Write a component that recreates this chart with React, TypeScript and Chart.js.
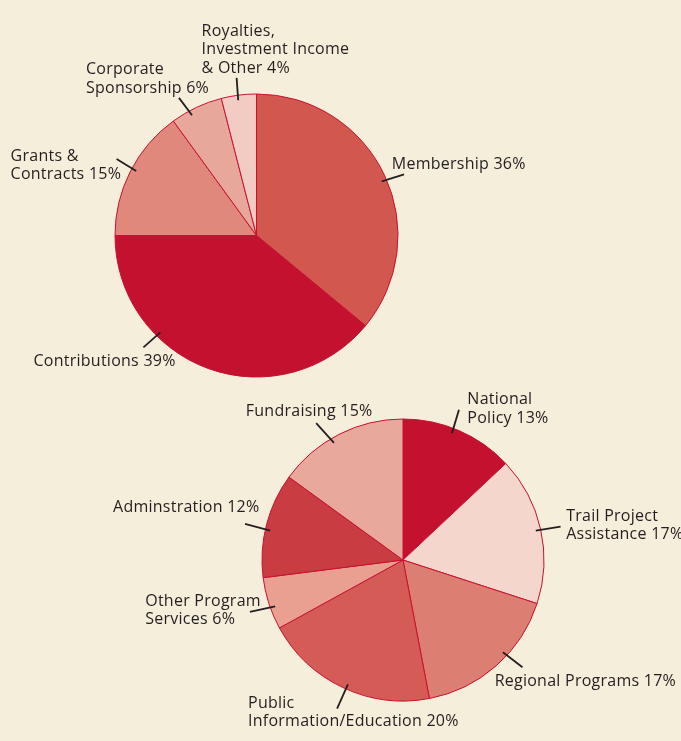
import React, { useEffect, useRef } from "react";
import { Chart, registerables } from "chart.js";

Chart.register(...registerables);

// ---- Data ----
const incomeCategories = [
  ["Membership 36%"],
  ["Contributions 39%"],
  ["Grants &", "Contracts 15%"],
  ["Corporate", "Sponsorship 6%"],
  ["Royalties,", "Investment Income", "& Other 4%"],
];
const incomeValues = [36, 39, 15, 6, 4];
const incomeColors = ["#d2584f", "#c3112f", "#df887b", "#e8a79b", "#f2cbc3"];

const expenseCategories = [
  ["National", "Policy 13%"],
  ["Trail Project", "Assistance 17%"],
  ["Regional Programs 17%"],
  ["Public", "Information/Education 20%"],
  ["Other Program", "Services 6%"],
  ["Adminstration 12%"],
  ["Fundraising 15%"],
];
const expenseValues = [13, 17, 17, 20, 6, 12, 15];
const expenseColors = ["#c3112f", "#f5d6cd", "#dc7e72", "#d45b56", "#e9a091", "#c93c41", "#e8a89c"];

// ---- Label layout (angle shift deg, leader vector, text offset from leader end) ----
type LabelLayout = { shift: number; vec: [number, number]; text: [number, number] };
const incomeLabelLayout: LabelLayout[] = [
  { shift: 1.8, vec: [22.3, -7], text: [-12.3, -5.4] },
  { shift: 25, vec: [-16.9, 15], text: [-109.9, 18.4] },
  { shift: 1.2, vec: [-19.6, -12], text: [-106, 2] },
  { shift: -3, vec: [-13, -17.3], text: [-93, -23.7] },
  { shift: -0.5, vec: [-1.6, -22.3], text: [-35, -42] },
];
const expenseLabelLayout: LabelLayout[] = [
  { shift: -2.3, vec: [7, -23.4], text: [8.4, -5.6] },
  { shift: 0.1, vec: [24.8, -4], text: [5.6, -5.7] },
  { shift: -5.9, vec: [19.5, 15], text: [-27.8, 18.4] },
  { shift: -1.3, vec: [-10.8, 24.3], text: [-89.1, -1] },
  { shift: -1.9, vec: [-25.2, 5.6], text: [-104.7, -6.3] },
  { shift: -1.9, vec: [-25.2, -6.7], text: [-132, -11.7] },
  { shift: -3.5, vec: [-17.8, -19.6], text: [-70.4, -7.7] },
];

const BG = "#f5eedb";
const TEXT = "#231f20";
const FONT = '16px "Open Sans", sans-serif';
const LINE_H = 18.4;

function makeLabelPlugin(labels: string[][], layout: LabelLayout[]) {
  return {
    id: "leaderLabels",
    afterDatasetsDraw(chart: any) {
      const ctx = chart.ctx;
      const meta = chart.getDatasetMeta(0);
      ctx.save();
      ctx.font = FONT;
      try {
        (ctx as any).letterSpacing = "0.25px";
      } catch (e) {}
      ctx.fillStyle = TEXT;
      ctx.strokeStyle = TEXT;
      ctx.lineWidth = 1.8;
      ctx.textAlign = "left";
      ctx.textBaseline = "alphabetic";
      meta.data.forEach((arc: any, i: number) => {
        const p = arc.getProps(["x", "y", "startAngle", "endAngle", "outerRadius"], true);
        const lay = layout[i];
        const a = (p.startAngle + p.endAngle) / 2 + (lay.shift * Math.PI) / 180;
        const r = p.outerRadius - 5;
        const x0 = p.x + Math.cos(a) * r;
        const y0 = p.y + Math.sin(a) * r;
        const x1 = x0 + lay.vec[0];
        const y1 = y0 + lay.vec[1];
        ctx.beginPath();
        ctx.moveTo(x0, y0);
        ctx.lineTo(x1, y1);
        ctx.stroke();
        const tx = x1 + lay.text[0];
        const ty = y1 + lay.text[1];
        labels[i].forEach((line, k) => ctx.fillText(line, tx, ty + k * LINE_H));
      });
      ctx.restore();
    },
  };
}

function PieBox(props: {
  width: number;
  height: number;
  labels: string[][];
  values: number[];
  colors: string[];
  layout: LabelLayout[];
  padding: { left: number; right: number; top: number; bottom: number };
  radius: number;
}) {
  const ref = useRef<HTMLCanvasElement>(null);
  useEffect(() => {
    if (!ref.current) return;
    const chart = new Chart(ref.current, {
      type: "pie",
      data: {
        labels: props.labels.map((l) => l.join(" ")),
        datasets: [
          {
            data: props.values,
            backgroundColor: props.colors,
            borderColor: "#c8102e",
            borderWidth: 1,
          },
        ],
      },
      options: {
        responsive: true,
        maintainAspectRatio: false,
        animation: false,
        radius: props.radius,
        layout: { padding: props.padding },
        plugins: { legend: { display: false }, tooltip: { enabled: false } },
      } as any,
      plugins: [makeLabelPlugin(props.labels, props.layout)],
    });
    return () => chart.destroy();
  }, []);
  return (
    <div style={{ position: "relative", width: props.width, height: props.height }}>
      <canvas ref={ref} />
    </div>
  );
}

export default function App() {
  useEffect(() => {
    document.body.style.margin = "0";
    document.body.style.background = BG;
  }, []);
  return (
    <div style={{ width: 681, height: 741, background: BG }}>
      <PieBox
        width={681}
        height={380}
        labels={incomeCategories}
        values={incomeValues}
        colors={incomeColors}
        layout={incomeLabelLayout}
        padding={{ left: 100, right: 268, top: 100, bottom: 9 }}
        radius={141.5}
      />
      <PieBox
        width={681}
        height={361}
        labels={expenseCategories}
        values={expenseValues}
        colors={expenseColors}
        layout={expenseLabelLayout}
        padding={{ left: 140, right: 15, top: 20, bottom: 21 }}
        radius={141}
      />
    </div>
  );
}
